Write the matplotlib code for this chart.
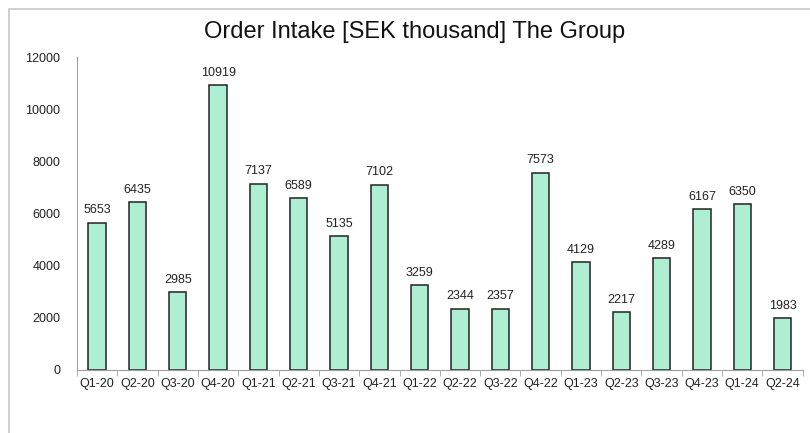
import matplotlib.pyplot as plt
from matplotlib.patches import Rectangle
import numpy as np

plt.rcParams['font.family'] = ['Liberation Sans', 'DejaVu Sans']

quarters = ['Q1-20', 'Q2-20', 'Q3-20', 'Q4-20', 'Q1-21', 'Q2-21', 'Q3-21', 'Q4-21', 'Q1-22',
            'Q2-22', 'Q3-22', 'Q4-22', 'Q1-23', 'Q2-23', 'Q3-23', 'Q4-23', 'Q1-24', 'Q2-24']
order_intake = [5653, 6435, 2985, 10919, 7137, 6589, 5135, 7102, 3259,
                2344, 2357, 7573, 4129, 2217, 4289, 6167, 6350, 1983]

fig = plt.figure(figsize=(8.1, 4.33), dpi=100)
ax = fig.add_axes([0.095, 0.1455, 0.896, 0.7225])

# light frame around the chart area
fig.patches.append(Rectangle((8.5 / 810, -0.1), 1.2, 1.1 - 8.5 / 433, transform=fig.transFigure,
                             fill=False, edgecolor='#c8c8c8', linewidth=1.2))

x = np.arange(len(quarters))
ax.bar(x, order_intake, width=0.43, color='#aeefd3', edgecolor='#222222', linewidth=1.1)
for xi, v in zip(x, order_intake):
    ax.text(xi, v + 250, str(v), ha='center', va='bottom', fontsize=9, color='#222222')

ax.set_xlim(-0.5, len(quarters) - 0.5)
ax.set_ylim(0, 12000)
ax.set_yticks(np.arange(0, 12001, 2000))
ax.set_xticks(x)
ax.set_xticklabels(quarters)
ax.set_xticks(np.arange(-0.5, len(quarters), 1), minor=True)
ax.tick_params(axis='x', which='major', length=0, labelsize=9, pad=6, colors='#222222')
ax.tick_params(axis='x', which='minor', length=4, color='#a0a0a0')
ax.tick_params(axis='y', length=0, labelsize=9, pad=12, colors='#222222')

for s in ['top', 'right']:
    ax.spines[s].set_visible(False)
ax.spines['left'].set_color('#a0a0a0')
ax.spines['bottom'].set_color('#a0a0a0')

fig.text(0.512, 0.925, 'Order Intake [SEK thousand] The Group', ha='center', va='center',
         fontsize=17, color='#111111')

fig.savefig('out.png', dpi=100)
